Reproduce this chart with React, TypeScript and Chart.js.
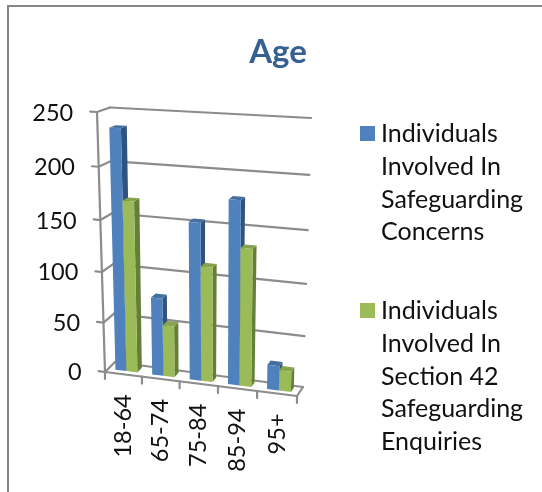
import React, { useEffect, useRef } from "react";
import { Chart, registerables } from "chart.js";

Chart.register(...registerables);

const categories = ["18-64", "65-74", "75-84", "85-94", "95+"];
const concerns = [235, 77, 153, 177, 24];
const enquiries = [168, 51, 112, 133, 20];
const yTicks = [0, 50, 100, 150, 200, 250];
const concernLines = ["Individuals", "Involved In", "Safeguarding", "Concerns"];
const enquiryLines = ["Individuals", "Involved In", "Section 42", "Safeguarding", "Enquiries"];
const BLUE = ["#4F81BD", "#2F5380", "#44709F"];
const GREEN = ["#9BBB59", "#667F38", "#87A44C"];
const GREY = "#8C8C8C";
const TEXT = "#111111";
const FONT = "Lato, Carlito, sans-serif";

type P = [number, number];
// Perspective frame of the 3D plot: TL, TR, BR, BL of the front and back planes.
const frontPlane: P[] = [[97, 112], [302, 124], [297, 396], [105, 372]];
const backPlane: P[] = [[110, 107.5], [311, 118], [303, 387], [115, 362]];

function homography(q: P[]) {
  const [[x0, y0], [x1, y1], [x2, y2], [x3, y3]] = q;
  const dx1 = x1 - x2, dx2 = x3 - x2, sx = x0 - x1 + x2 - x3;
  const dy1 = y1 - y2, dy2 = y3 - y2, sy = y0 - y1 + y2 - y3;
  const d = dx1 * dy2 - dx2 * dy1;
  const g = (sx * dy2 - dx2 * sy) / d;
  const h = (dx1 * sy - sx * dy1) / d;
  const a = x1 - x0 + g * x1, b = x3 - x0 + h * x3, c = x0;
  const e = y1 - y0 + g * y1, f = y3 - y0 + h * y3, i = y0;
  return (u: number, v: number): P => {
    const w = g * u + h * v + 1;
    return [(a * u + b * v + c) / w, (e * u + f * v + i) / w];
  };
}
const front = homography(frontPlane);
const back = homography(backPlane);

// u: across, t: up (0 to 1), z: 0 at the front plane, 1 at the back wall
function project(u: number, t: number, z: number): P {
  const a = front(u, 1 - t);
  const b = back(u, 1 - t);
  return [a[0] + (b[0] - a[0]) * z, a[1] + (b[1] - a[1]) * z];
}

function line(ctx: CanvasRenderingContext2D, a: P, b: P) {
  ctx.beginPath();
  ctx.moveTo(a[0], a[1]);
  ctx.lineTo(b[0], b[1]);
  ctx.stroke();
}
function poly(ctx: CanvasRenderingContext2D, pts: P[], fill: string) {
  ctx.beginPath();
  pts.forEach((p, i) => (i ? ctx.lineTo(p[0], p[1]) : ctx.moveTo(p[0], p[1])));
  ctx.closePath();
  ctx.fillStyle = fill;
  ctx.fill();
}

const BAR_FRONT_Z = 0.32;
const BAR_BACK_Z = 0.8;

const plot3d = {
  id: "plot3d",
  beforeDatasetsDraw(chart: any) {
    const { ctx, chartArea: area, scales } = chart;
    const toU = (px: number) => (px - area.left) / (area.right - area.left);
    const toT = (py: number) => (area.bottom - py) / (area.bottom - area.top);
    ctx.save();
    ctx.lineCap = "round";
    ctx.strokeStyle = GREY;
    ctx.lineWidth = 2.2;
    yTicks.forEach((value) => {
      const t = toT(scales.y.getPixelForValue(value));
      line(ctx, project(0, t, 1), project(1, t, 1));
      line(ctx, project(0, t, 1), project(0, t, 0));
      line(ctx, project(0, t, 0), project(-0.035, t, 0));
    });
    line(ctx, project(0, 0, 0), project(0, 1, 0));
    line(ctx, project(0, 0, 0), project(1, 0, 0));
    line(ctx, project(1, 0, 0), project(1, 0, 1));
    for (let i = 0; i <= categories.length; i++) {
      const a = project(i / categories.length, 0, 0);
      line(ctx, a, [a[0], a[1] + 7]);
    }

    chart.data.datasets.forEach((_: any, di: number) => {
      const shades = di === 0 ? BLUE : GREEN;
      chart.getDatasetMeta(di).data.forEach((bar: any) => {
        const l = toU(bar.x - bar.width / 2);
        const r = toU(bar.x + bar.width / 2);
        const top = toT(bar.y);
        const base = toT(bar.base);
        poly(ctx, [project(r, top, BAR_FRONT_Z), project(r, top, BAR_BACK_Z), project(r, base, BAR_BACK_Z), project(r, base, BAR_FRONT_Z)], shades[1]);
        poly(ctx, [project(l, top, BAR_FRONT_Z), project(r, top, BAR_FRONT_Z), project(r, top, BAR_BACK_Z), project(l, top, BAR_BACK_Z)], shades[2]);
        poly(ctx, [project(l, top, BAR_FRONT_Z), project(r, top, BAR_FRONT_Z), project(r, base, BAR_FRONT_Z), project(l, base, BAR_FRONT_Z)], shades[0]);
      });
    });

    // Value labels follow the leaning axis
    ctx.fillStyle = TEXT;
    ctx.font = `23.5px ${FONT}`;
    ctx.textAlign = "right";
    ctx.textBaseline = "middle";
    yTicks.forEach((value) => {
      const p = project(-0.035, toT(scales.y.getPixelForValue(value)), 0);
      ctx.fillText(String(value), p[0] - 17, p[1] + 1.5);
    });

    // Category labels follow the slanted floor
    categories.forEach((label, i) => {
      const p = project(toU(scales.x.getPixelForTick(i)), 0, 0);
      ctx.save();
      ctx.translate(p[0], p[1] + 20);
      ctx.rotate(-Math.PI / 2);
      ctx.fillText(label, 0, 0);
      ctx.restore();
    });

    // Legend with wrapped entries
    const entries: [string[], string, number][] = [
      [concernLines, BLUE[0], 134],
      [enquiryLines, GREEN[0], 311],
    ];
    ctx.textAlign = "left";
    ctx.font = `25px ${FONT}`;
    entries.forEach(([lines, colour, y0]) => {
      ctx.fillStyle = colour;
      ctx.fillRect(360, y0 - 8, 15, 15);
      ctx.fillStyle = TEXT;
      lines.forEach((text, i) => ctx.fillText(text, 381, y0 + i * 32.8));
    });
    ctx.restore();
    return false;
  },
};

export default function App() {
  const ref = useRef<HTMLCanvasElement>(null);
  useEffect(() => {
    document.body.style.margin = "0";
    document.body.style.background = "#fff";
    const chart = new Chart(ref.current!, {
      type: "bar",
      data: {
        labels: categories,
        datasets: [
          { label: concernLines.join(" "), data: concerns, backgroundColor: BLUE[0], categoryPercentage: 0.6, barPercentage: 1 },
          { label: enquiryLines.join(" "), data: enquiries, backgroundColor: GREEN[0], categoryPercentage: 0.6, barPercentage: 1 },
        ],
      },
      options: {
        animation: false,
        responsive: false,
        devicePixelRatio: 1,
        layout: { padding: { left: 14, right: 0, top: 0, bottom: 0 } },
        plugins: {
          legend: { display: false },
          tooltip: { enabled: false },
          title: {
            display: true,
            text: "Age",
            color: "#376092",
            font: { family: FONT, size: 33, weight: "bold" },
            padding: { top: 33, bottom: 41 },
          },
        },
        scales: {
          x: {
            grid: { display: false },
            border: { display: false },
            ticks: { display: false },
            afterFit: (s: any) => { s.height = 119; },
          },
          y: {
            min: 0,
            max: 250,
            grid: { display: false, drawTicks: false },
            border: { display: false },
            ticks: { stepSize: 50, display: false },
            afterFit: (s: any) => { s.width = 89; },
          },
          y2: {
            position: "right",
            min: 0,
            max: 250,
            grid: { display: false, drawTicks: false },
            border: { display: false },
            ticks: { display: false },
            afterFit: (s: any) => { s.width = 247; },
          },
        },
      },
      plugins: [plot3d],
    } as any);
    return () => chart.destroy();
  }, []);
  return (
    <div style={{ position: "relative", width: 542, height: 492, overflow: "hidden" }}>
      <div style={{ position: "absolute", left: 7, top: 5, right: -4, bottom: -4, borderLeft: "2px solid #868686", borderTop: "2px solid #868686" }} />
      <canvas ref={ref} width={542} height={492} style={{ position: "absolute", left: 0, top: 0 }} />
    </div>
  );
}
